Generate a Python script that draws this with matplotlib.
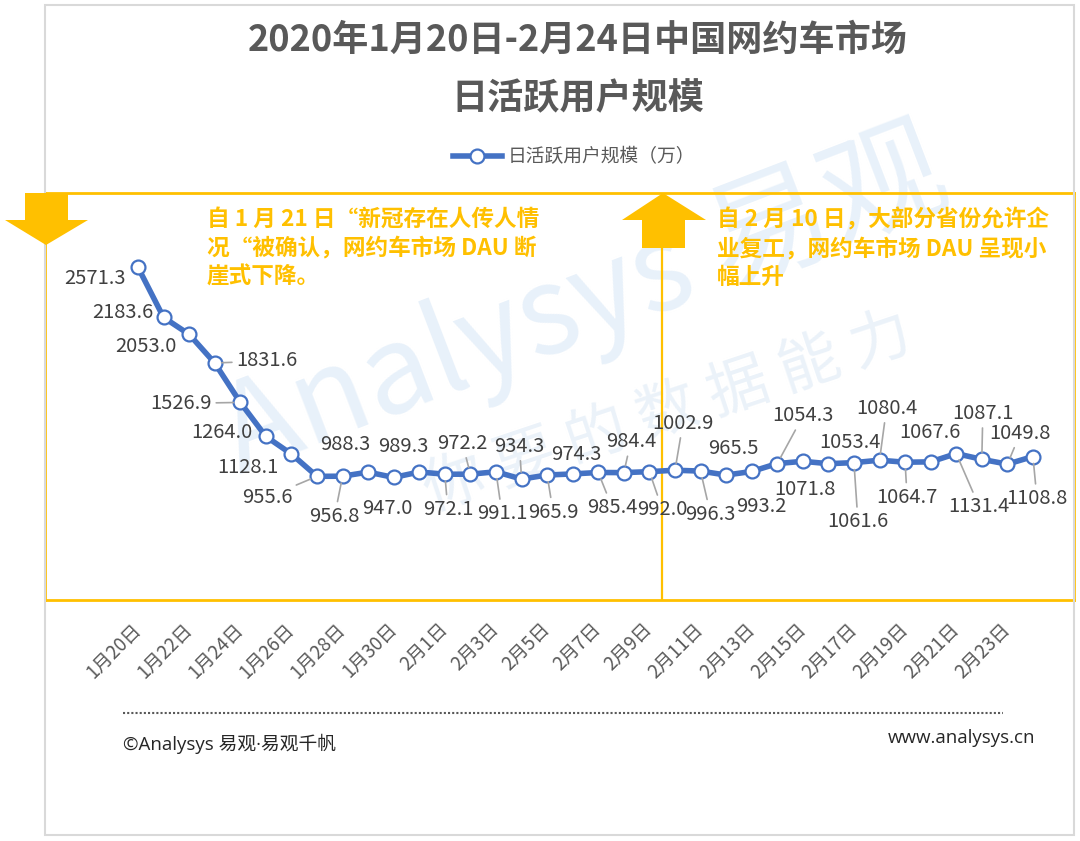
import matplotlib
matplotlib.use("Agg")
import matplotlib.pyplot as plt
from matplotlib.patches import Polygon, Rectangle
from matplotlib.lines import Line2D

plt.rcParams['font.family'] = ['Noto Sans CJK SC', 'DejaVu Sans']

# ---------------- data ----------------
dates = ['1月20日', '1月21日', '1月22日', '1月23日', '1月24日', '1月25日', '1月26日', '1月27日',
         '1月28日', '1月29日', '1月30日', '1月31日', '2月1日', '2月2日', '2月3日', '2月4日',
         '2月5日', '2月6日', '2月7日', '2月8日', '2月9日', '2月10日', '2月11日', '2月12日',
         '2月13日', '2月14日', '2月15日', '2月16日', '2月17日', '2月18日', '2月19日', '2月20日',
         '2月21日', '2月22日', '2月23日', '2月24日']
dau = [2571.3, 2183.6, 2053.0, 1831.6, 1526.9, 1264.0, 1128.1, 955.6, 956.8, 988.3,
       947.0, 989.3, 972.1, 972.2, 991.1, 934.3, 965.9, 974.3, 985.4, 984.4,
       992.0, 1002.9, 996.3, 965.5, 993.2, 1054.3, 1071.8, 1053.4, 1061.6, 1080.4,
       1064.7, 1067.6, 1131.4, 1087.1, 1049.8, 1108.8]
series_name = '日活跃用户规模（万）'
title_line1 = '2020年1月20日-2月24日中国网约车市场'
title_line2 = '日活跃用户规模'
note_left = '自 1 月 21 日“新冠存在人传人情\n况“被确认，网约车市场 DAU 断\n崖式下降。'
note_right = '自 2 月 10 日，大部分省份允许企\n业复工，网约车市场 DAU 呈现小\n幅上升'

# ---------------- layout (label offsets in pixels: dx, dy-down, leader) ----------------
label_offsets = [(-43, 11, 0), (-41, -5, 0), (-43, 12, 0), (52, -2, 1), (-59, 1, 1),
                 (-44, -4, 0), (-44, 13, 0), (-50, 21, 1), (-8, 40, 1), (-23, -28, 0),
                 (-6, 31, 0), (-16, -25, 0), (3, 35, 1), (-8, -31, 1), (6, 42, 1),
                 (-2, -33, 1), (6, 37, 1), (4, -19, 0), (14, 35, 1), (7, -31, 1),
                 (13, 38, 1), (8, -47, 1), (10, 43, 1), (7, -27, 0), (10, 35, 0),
                 (26, -48, 1), (2, 28, 0), (22, -21, 0), (4, 59, 1), (7, -52, 1),
                 (2, 35, 1), (-1, -29, 0), (23, 53, 1), (1, -46, 1), (13, -31, 1),
                 (4, 42, 1)]

W, H = 1080, 841
GOLD = '#FFC000'
BLUE = '#4472C4'


def fx(x):
    return x / W


def fy(y):
    return 1 - y / H


fig = plt.figure(figsize=(W / 100, H / 100), dpi=100)
fig.patch.set_facecolor('white')

# outer gray frame
fig.add_artist(Rectangle((fx(45), fy(835)), fx(1074) - fx(45), fy(5) - fy(835),
                         transform=fig.transFigure, fill=False, edgecolor='#D9D9D9', lw=1.5))

# watermark (behind the axes)
fig.text(fx(585), fy(305), 'Analysys 易观', fontsize=88, color='#E8F1FA',
         rotation=21, ha='center', va='center', zorder=-2)
fig.text(fx(668), fy(413), '你 要 的 数 据 能 力', fontsize=44, color='#EBF2F9',
         rotation=18.5, ha='center', va='center', zorder=-2)

# axes = yellow box
box_l, box_r, box_t, box_b = 45, 1074, 193, 600
ax = fig.add_axes([fx(box_l), fy(box_b), fx(box_r) - fx(box_l), fy(box_t) - fy(box_b)])
ax.set_facecolor('none')
x = list(range(len(dau)))
x_step = 25.57
ax.set_xlim(-(138 - box_l) / x_step, (box_r - 138) / x_step)
ax.set_ylim(0, (box_b - box_t) / 0.1294)
for s in ax.spines.values():
    s.set_color(GOLD)
    s.set_linewidth(2)
ax.axvline(20.5, color=GOLD, lw=1.6, zorder=1)
ax.set_yticks([])
ax.set_xticks(x[::2])
ax.set_xticklabels(dates[::2], rotation=45, ha='right', va='center', rotation_mode='anchor',
                   fontsize=13.5, color='#595959')
ax.tick_params(axis='x', length=0, pad=19)

line, = ax.plot(x, dau, color=BLUE, lw=4, marker='o', markersize=10,
                markerfacecolor='white', markeredgecolor=BLUE, markeredgewidth=1.6,
                zorder=3, label=series_name)

for i, v in enumerate(dau):
    dx, dy, lead = label_offsets[i]
    kw = dict(textcoords='offset pixels', ha='center', va='center', fontsize=14.5,
              color='#404040', zorder=4)
    if lead:
        kw['arrowprops'] = dict(arrowstyle='-', color='#A6A6A6', lw=1.2,
                                shrinkA=1, shrinkB=5)
    ax.annotate(f'{v:.1f}', xy=(i, v), xytext=(dx, -dy), **kw)

# title
fig.text(fx(578), fy(40), title_line1, fontsize=26, fontweight='bold',
         color='#595959', ha='center', va='center')
fig.text(fx(578), fy(99), title_line2, fontsize=26, fontweight='bold',
         color='#595959', ha='center', va='center')

# legend
fig.legend(handles=[line], loc='center', bbox_to_anchor=(fx(574), fy(157)), frameon=False,
           fontsize=13.5, handlelength=2.6, handletextpad=0.3, labelcolor='#595959')

# notes
fig.text(fx(207), fy(208), note_left, fontsize=16.3, fontweight='bold', color=GOLD,
         ha='left', va='top', linespacing=1.32)
fig.text(fx(717), fy(208), note_right, fontsize=16.3, fontweight='bold', color=GOLD,
         ha='left', va='top', linespacing=1.32)

# arrows
down = [(25, 193), (68, 193), (68, 220), (88, 220), (46, 245), (5, 220), (25, 220)]
up = [(663, 193), (706, 220), (685, 220), (685, 248), (642, 248), (642, 220), (622, 220)]
for pts in (down, up):
    fig.add_artist(Polygon([(fx(a), fy(b)) for a, b in pts], closed=True,
                           transform=fig.transFigure, facecolor=GOLD, edgecolor='none', zorder=5))

# footer
fig.add_artist(Line2D([fx(123), fx(1003)], [fy(713), fy(713)], transform=fig.transFigure,
                      color='#595959', lw=1.5, ls=(0, (1, 1))))
fig.text(fx(123), fy(744), '©Analysys 易观·易观千帆', fontsize=13.5, color='#262626',
         ha='left', va='center', family=['Open Sans', 'Noto Sans CJK SC'])
fig.text(fx(1035), fy(738), 'www.analysys.cn', fontsize=13.5, color='#262626',
         ha='right', va='center', family=['Open Sans', 'Noto Sans CJK SC'])

fig.savefig('out.png', dpi=100)
